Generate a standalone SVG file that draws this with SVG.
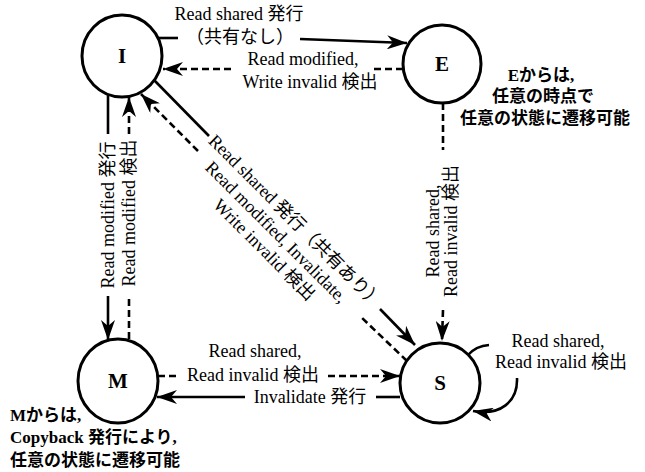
<svg xmlns="http://www.w3.org/2000/svg" width="645" height="472" viewBox="0 0 645 472">
<defs>
<style>
.node ellipse{fill:#fff;stroke:#000;stroke-width:3}
.nl{font-family:"Liberation Serif","Noto Sans CJK JP",serif;font-size:21px;font-weight:bold;text-anchor:middle;fill:#000}
.lbl{font-family:"Liberation Serif","Noto Sans CJK JP",serif;font-size:18px;text-anchor:middle;fill:#000}
.note{font-family:"Liberation Serif","Noto Sans CJK JP",serif;font-size:17px;font-weight:bold;fill:#000}
.s{fill:none;stroke:#000;stroke-width:2.6}
.d{fill:none;stroke:#000;stroke-width:2.6;stroke-dasharray:7 4}
</style>
<marker id="ah" viewBox="0 0 20 14" refX="20" refY="7" markerWidth="20" markerHeight="14" markerUnits="userSpaceOnUse" orient="auto"><path d="M0,0 L20,7 L0,14 L6,7 Z" fill="#000"/></marker>
</defs>
<rect width="645" height="472" fill="#fff"/>

<g id="connectors">
  <g id="e-I-E">
    <path class="s" d="M158,38 L178,38"/>
    <path class="s" d="M300,39 L407,43" marker-end="url(#ah)"/>
    <text class="lbl" x="239" y="20">Read shared 発行</text>
    <text class="lbl" x="240" y="43">（共有なし）</text>
  </g>
  <g id="e-E-I">
    <path class="d" d="M403,69 L374,69"/>
    <path class="d" d="M231,69 L163,69" marker-end="url(#ah)"/>
    <text class="lbl" x="303" y="65">Read modified,</text>
    <text class="lbl" x="310" y="88">Write invalid 検出</text>
  </g>
  <g id="e-I-M">
    <path class="s" d="M108,94 L108,134"/>
    <path class="s" d="M108,296 L108,340" marker-end="url(#ah)"/>
    <text class="lbl" transform="translate(114,215) rotate(-90)">Read modified 発行</text>
  </g>
  <g id="e-M-I">
    <path class="d" d="M129,339 L129,296"/>
    <path class="d" d="M129,134 L129,97" marker-end="url(#ah)"/>
    <text class="lbl" transform="translate(135,213) rotate(-90)">Read modified 検出</text>
  </g>
  <g id="e-E-S">
    <path class="d" d="M443,103 L443,150"/>
    <path class="d" d="M443,310 L442,341" marker-end="url(#ah)"/>
    <text class="lbl" transform="translate(439,231) rotate(-90)">Read shared,</text>
    <text class="lbl" transform="translate(457,231) rotate(-90)">Read invalid 検出</text>
  </g>
  <g id="e-I-S">
    <path class="s" d="M154,80 L209,136"/>
    <path class="s" d="M380,309 L415,345" marker-end="url(#ah)"/>
  </g>
  <g id="e-S-I">
    <path class="d" d="M407,361 L360,316"/>
    <path class="d" d="M198,151 L141,94" marker-end="url(#ah)"/>
  </g>
  <g transform="translate(294,220) rotate(45)">
    <text class="lbl" x="2" y="6">Read shared 発行（共有あり）</text>
    <text class="lbl" x="-4" y="27">Read modified, Invalidate,</text>
    <text class="lbl" x="0" y="48">Write invalid 検出</text>
  </g>
  <g id="e-M-S">
    <path class="d" d="M158,376 L180,376"/>
    <path class="d" d="M328,376 L400,376" marker-end="url(#ah)"/>
    <text class="lbl" x="255" y="357">Read shared,</text>
    <text class="lbl" x="253" y="381">Read invalid 検出</text>
  </g>
  <g id="e-S-M">
    <path class="s" d="M400,397 L376,397"/>
    <path class="s" d="M245,397 L157,397" marker-end="url(#ah)"/>
    <text class="lbl" x="310" y="403">Invalidate 発行</text>
  </g>
  <g id="e-S-S">
    <path class="s" d="M468,355 Q476,346 489,345"/>
    <path class="s" d="M517,378 C518,402 500,416 473,411" marker-end="url(#ah)"/>
    <text class="lbl" x="558" y="347">Read shared,</text>
    <text class="lbl" x="561" y="368">Read invalid 検出</text>
  </g>
</g>

<g id="node-I" class="node"><ellipse cx="122" cy="56" rx="40" ry="41"/><text class="nl" x="122" y="63">I</text></g>
<g id="node-E" class="node"><ellipse cx="442" cy="64" rx="39" ry="39"/><text class="nl" x="442" y="71">E</text></g>
<g id="node-M" class="node"><ellipse cx="118" cy="381" rx="40" ry="42"/><text class="nl" x="118" y="388">M</text></g>
<g id="node-S" class="node"><ellipse cx="440" cy="383" rx="40" ry="40"/><text class="nl" x="440" y="390">S</text></g>

<g id="note-E" class="note" text-anchor="middle">
  <text x="541" y="81">Eからは,</text>
  <text x="543" y="102">任意の時点で</text>
  <text x="545" y="124">任意の状態に遷移可能</text>
</g>
<g id="note-M" class="note">
  <text x="10" y="421">Mからは,</text>
  <text x="10" y="443">Copyback 発行により,</text>
  <text x="10" y="466">任意の状態に遷移可能</text>
</g>
</svg>
